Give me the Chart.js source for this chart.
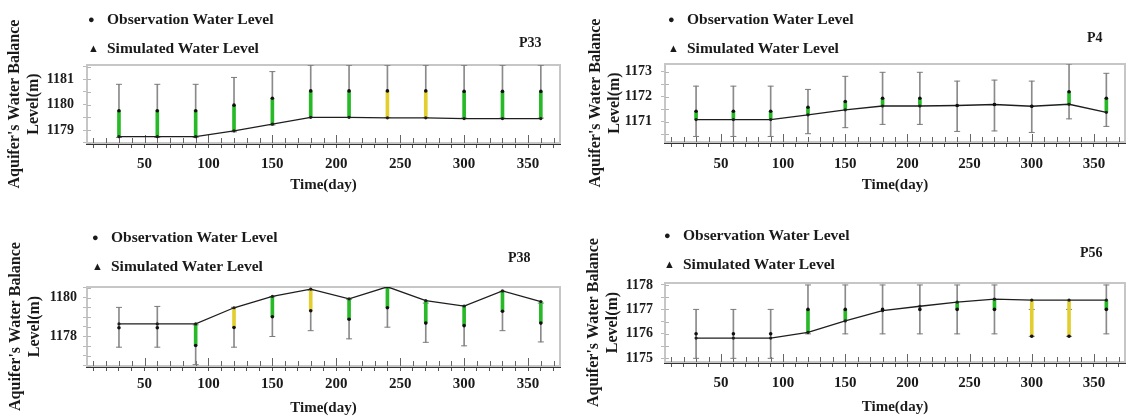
<!DOCTYPE html>
<html lang="en">
<head>
<meta charset="utf-8">
<title>Aquifer's Water Balance Level</title>
<script src="https://cdn.jsdelivr.net/npm/chart.js@4.4.1/dist/chart.umd.min.js"></script>
<style>
  html, body { margin: 0; padding: 0; background: #fff; }
  body { width: 1130px; height: 416px; overflow: hidden; position: relative;
         font-family: "Liberation Serif", "Times New Roman", serif; color: #1a1a1a; }
  .painel { position: absolute; overflow: visible; }
  .painel canvas { position: absolute; left: 0; top: 0; }
  .legenda { position: absolute; font-weight: bold; font-size: 15.5px; line-height: 16px; white-space: nowrap; }
  .legenda .simb { display: inline-block; width: 19px; font-size: 11px; vertical-align: 1px; }
  .rotulo { position: absolute; font-weight: bold; font-size: 14px; line-height: 14px; }
</style>
</head>
<body>

<div class="painel" style="left:0;top:0;width:565px;height:210px">
  <canvas id="P33" width="565" height="210"></canvas>
  <div class="legenda" style="left:88px;top:11px"><span class="simb">&#9679;</span>Observation Water Level</div>
  <div class="legenda" style="left:88px;top:40px"><span class="simb">&#9650;</span>Simulated Water Level</div>
  <div class="rotulo" style="left:519px;top:36px">P33</div>
</div>

<div class="painel" style="left:565px;top:0;width:565px;height:210px">
  <canvas id="P4" width="565" height="210"></canvas>
  <div class="legenda" style="left:103px;top:11px"><span class="simb">&#9679;</span>Observation Water Level</div>
  <div class="legenda" style="left:103px;top:40px"><span class="simb">&#9650;</span>Simulated Water Level</div>
  <div class="rotulo" style="left:522px;top:31px">P4</div>
</div>

<div class="painel" style="left:0;top:210px;width:565px;height:208px">
  <canvas id="P38" width="565" height="208"></canvas>
  <div class="legenda" style="left:92px;top:19px"><span class="simb">&#9679;</span>Observation Water Level</div>
  <div class="legenda" style="left:92px;top:48px"><span class="simb">&#9650;</span>Simulated Water Level</div>
  <div class="rotulo" style="left:508px;top:41px">P38</div>
</div>

<div class="painel" style="left:565px;top:210px;width:565px;height:208px">
  <canvas id="P56" width="565" height="208"></canvas>
  <div class="legenda" style="left:99px;top:17px"><span class="simb">&#9679;</span>Observation Water Level</div>
  <div class="legenda" style="left:99px;top:46px"><span class="simb">&#9650;</span>Simulated Water Level</div>
  <div class="rotulo" style="left:515px;top:36px">P56</div>
</div>

<script>
// dias de observacao (eixo x) e rotulos
var dias = [30, 60, 90, 120, 150, 180, 210, 240, 270, 300, 330, 360];
var xRotulos = [50, 100, 150, 200, 250, 300, 350];
var xLimites = [5, 375];

// P33
var p33Simulado = [1178.74, 1178.74, 1178.74, 1178.97, 1179.23, 1179.50, 1179.50, 1179.48, 1179.48, 1179.45, 1179.45, 1179.45];
var p33Observado = [1179.76, 1179.76, 1179.76, 1179.98, 1180.25, 1180.54, 1180.54, 1180.54, 1180.54, 1180.52, 1180.52, 1180.52];
var p33ErroMin = [1178.71, 1178.71, 1178.71, 1178.93, 1179.20, 1179.49, 1179.49, 1179.49, 1179.49, 1179.47, 1179.47, 1179.47];
var p33ErroMax = [1180.80, 1180.80, 1180.80, 1181.07, 1181.30, 1181.55, 1181.55, 1181.55, 1181.55, 1181.55, 1181.55, 1181.55];
var p33Classe = ['ok', 'ok', 'ok', 'ok', 'ok', 'ok', 'ok', 'alerta', 'alerta', 'ok', 'ok', 'ok'];
var p33Limites = [1178.49, 1181.56];
var p33Rotulos = [1179, 1180, 1181];
var p33Marcas = [1178.5, 1179, 1179.5, 1180, 1180.5, 1181, 1181.5];

// P4
var p4Simulado = [1171.09, 1171.09, 1171.09, 1171.28, 1171.48, 1171.63, 1171.63, 1171.65, 1171.69, 1171.62, 1171.70, 1171.38];
var p4Observado = [1171.42, 1171.42, 1171.42, 1171.58, 1171.81, 1171.94, 1171.94, 1171.65, 1171.69, 1171.62, 1172.20, 1171.94];
var p4ErroMin = [1170.42, 1170.42, 1170.42, 1170.53, 1170.77, 1170.90, 1170.90, 1170.62, 1170.64, 1170.58, 1171.12, 1170.82];
var p4ErroMax = [1172.42, 1172.42, 1172.42, 1172.29, 1172.81, 1172.97, 1172.97, 1172.62, 1172.66, 1172.62, 1173.30, 1172.93];
var p4Classe = ['ok', 'ok', 'ok', 'ok', 'ok', 'ok', 'ok', 'nenhuma', 'nenhuma', 'nenhuma', 'ok', 'ok'];
var p4Limites = [1170.2, 1173.3];
var p4Rotulos = [1171, 1172, 1173];
var p4Marcas = [1170.5, 1171, 1171.5, 1172, 1172.5, 1173];

// P38
var p38Simulado = [1178.65, 1178.65, 1178.65, 1179.48, 1180.07, 1180.44, 1179.94, 1180.56, 1179.85, 1179.57, 1180.35, 1179.80];
var p38Observado = [1178.45, 1178.45, 1177.54, 1178.46, 1179.02, 1179.33, 1178.89, 1179.48, 1178.69, 1178.56, 1179.30, 1178.69];
var p38ErroMin = [1177.45, 1177.45, 1176.55, 1177.45, 1178.00, 1178.30, 1177.88, 1178.48, 1177.70, 1177.52, 1178.30, 1177.72];
var p38ErroMax = [1179.50, 1179.55, 1178.60, 1179.50, 1180.05, 1180.38, 1179.92, 1180.50, 1179.72, 1179.60, 1180.33, 1179.72];
var p38Classe = ['nenhuma', 'nenhuma', 'ok', 'alerta', 'ok', 'alerta', 'ok', 'ok', 'ok', 'ok', 'ok', 'ok'];
var p38Limites = [1176.48, 1180.55];
var p38Rotulos = [1178, 1180];
var p38Marcas = [1176.5, 1177, 1177.5, 1178, 1178.5, 1179, 1179.5, 1180, 1180.5];

// P56
var p56Simulado = [1175.83, 1175.83, 1175.83, 1176.06, 1176.53, 1176.95, 1177.13, 1177.30, 1177.42, 1177.38, 1177.38, 1177.38];
var p56Observado = [1176.00, 1176.00, 1176.00, 1177.00, 1177.00, 1177.00, 1177.00, 1177.00, 1177.00, 1175.90, 1175.90, 1177.00];
var p56ErroMin = [1175.00, 1175.00, 1175.00, 1176.00, 1176.00, 1176.00, 1176.00, 1176.00, 1176.00, 1175.90, 1175.90, 1176.00];
var p56ErroMax = [1177.00, 1177.00, 1177.00, 1178.00, 1178.00, 1178.00, 1178.00, 1178.00, 1178.00, 1177.00, 1177.00, 1178.00];
var p56Classe = ['nenhuma', 'nenhuma', 'nenhuma', 'ok', 'ok', 'nenhuma', 'nenhuma', 'ok', 'ok', 'alerta', 'alerta', 'ok'];
var p56Limites = [1174.85, 1178.08];
var p56Rotulos = [1175, 1176, 1177, 1178];
var p56Marcas = [1175, 1175.5, 1176, 1176.5, 1177, 1177.5, 1178];

var corClasse = { ok: '#27b927', alerta: '#e2cf2f', nenhuma: 'rgba(0,0,0,0)' };

Chart.defaults.font.family = '"Liberation Serif", "Times New Roman", serif';
Chart.defaults.font.weight = 'bold';
Chart.defaults.color = '#1a1a1a';

// marcas menores do eixo x a cada 10 dias
var xMarcas = [];
for (var d = 10; d <= 370; d += 10) { xMarcas.push(d); }

// moldura cinza e tracinhos para dentro do grafico
var molduraPlugin = {
    id: 'moldura',
    beforeDatasetsDraw: function (chart) {
        var ctx = chart.ctx, a = chart.chartArea;
        ctx.save();
        ctx.strokeStyle = '#c6c6c6';
        ctx.lineWidth = 2;
        ctx.strokeRect(a.left, a.top, a.right - a.left, a.bottom - a.top);
        var sx = chart.scales.x, sy = chart.scales.y;
        ctx.lineWidth = 1;
        ctx.strokeStyle = '#666';
        sx.ticks.forEach(function (t) {
            var px = Math.round(sx.getPixelForValue(t.value)) + 0.5;
            var len = xRotulos.indexOf(t.value) >= 0 ? 8 : 5;
            ctx.beginPath();
            ctx.moveTo(px, a.bottom);
            ctx.lineTo(px, a.bottom - len);
            ctx.stroke();
        });
        ctx.strokeStyle = '#b5b5b5';
        sy.ticks.forEach(function (t) {
            var py = Math.round(sy.getPixelForValue(t.value)) + 0.5;
            ctx.beginPath();
            ctx.moveTo(a.left, py);
            ctx.lineTo(a.left + 4, py);
            ctx.stroke();
        });
        ctx.restore();
    }
};

function criarGrafico(idCanvas, cfg) {
    var pontos = function (valores) {
        return dias.map(function (d, i) { return { x: d, y: valores[i] }; });
    };
    var faixas = function (a, b) {
        return dias.map(function (d, i) { return { x: d, y: [a[i], b[i]] }; });
    };
    var canvas = document.getElementById(idCanvas);
    var contexto = canvas.getContext('2d');
    return new Chart(contexto, {
        type: 'scatter',
        data: {
            datasets: [
                {
                    type: 'scatter', label: 'Observation Water Level',
                    data: pontos(cfg.observado),
                    pointStyle: 'circle', pointRadius: 1.8,
                    backgroundColor: '#111', borderWidth: 0, order: 1
                },
                {
                    type: 'line', label: 'Simulated Water Level',
                    data: pontos(cfg.simulado),
                    borderColor: '#1e1e1e', borderWidth: 1.3, tension: 0,
                    pointRadius: 1.6, pointBackgroundColor: '#1e1e1e', pointBorderWidth: 0,
                    order: 2
                },
                {
                    type: 'bar', data: faixas(cfg.simulado, cfg.observado),
                    backgroundColor: cfg.classe.map(function (c) { return corClasse[c]; }),
                    barThickness: 3, grouped: false, order: 3
                },
                {
                    type: 'scatter', data: pontos(cfg.erroMax),
                    pointStyle: 'line', pointRadius: 3, borderColor: '#7c7c7c', borderWidth: 1, order: 4
                },
                {
                    type: 'scatter', data: pontos(cfg.erroMin),
                    pointStyle: 'line', pointRadius: 3, borderColor: '#7c7c7c', borderWidth: 1, order: 4
                },
                {
                    type: 'bar', data: faixas(cfg.erroMin, cfg.erroMax),
                    backgroundColor: '#8a8a8a', barThickness: 1, grouped: false, order: 5
                }
            ]
        },
        options: {
            responsive: false,
            animation: false,
            events: [],
            devicePixelRatio: 1,
            layout: {
                padding: { left: 0, top: cfg.area[2], right: canvas.width - cfg.area[1], bottom: 0 }
            },
            plugins: { legend: { display: false }, tooltip: { enabled: false } },
            scales: {
                x: {
                    type: 'linear', offset: false,
                    min: xLimites[0], max: xLimites[1],
                    afterBuildTicks: function (s) { s.ticks = xMarcas.map(function (v) { return { value: v }; }); },
                    afterFit: function (s) { s.height = canvas.height - cfg.area[3]; },
                    ticks: {
                        autoSkip: false, maxRotation: 0, padding: cfg.padTickX,
                        font: { size: 15, weight: 'bold' },
                        callback: function (v) { return xRotulos.indexOf(v) >= 0 ? String(v) : ''; }
                    },
                    grid: { drawOnChartArea: false, tickLength: 5, color: '#555', offset: false },
                    border: { display: true, color: '#333', width: 3 },
                    title: {
                        display: true, text: 'Time(day)',
                        font: { size: 15, weight: 'bold' },
                        padding: { top: 0, bottom: cfg.padTituloX }
                    }
                },
                y: {
                    type: 'linear', beginAtZero: false,
                    min: cfg.limites[0], max: cfg.limites[1],
                    afterBuildTicks: function (s) { s.ticks = cfg.marcas.map(function (v) { return { value: v }; }); },
                    afterFit: function (s) { s.width = cfg.area[0]; },
                    ticks: {
                        autoSkip: false, padding: cfg.padTickY,
                        font: { size: 14, weight: 'bold' },
                        callback: function (v) { return cfg.rotulos.indexOf(v) >= 0 ? String(v) : ''; }
                    },
                    grid: { drawOnChartArea: false, tickLength: 4, color: '#bbb' },
                    border: { display: false },
                    title: {
                        display: true, text: ["Aquifer's Water Balance", 'Level(m)'],
                        font: { size: 16, weight: 'bold', lineHeight: 1.2 },
                        padding: { top: cfg.padTituloY, bottom: 0 }
                    }
                }
            }
        },
        plugins: [molduraPlugin]
    });
}

// area: [esquerda, direita, topo, base] em pixels do canvas
var graficoP33 = criarGrafico('P33', {
    simulado: p33Simulado, observado: p33Observado, erroMin: p33ErroMin, erroMax: p33ErroMax,
    classe: p33Classe, limites: p33Limites, rotulos: p33Rotulos, marcas: p33Marcas,
    area: [87, 560, 65, 143], padTickX: 7, padTituloX: 16, padTickY: 9, padTituloY: 5
});

var graficoP4 = criarGrafico('P4', {
    simulado: p4Simulado, observado: p4Observado, erroMin: p4ErroMin, erroMax: p4ErroMax,
    classe: p4Classe, limites: p4Limites, rotulos: p4Rotulos, marcas: p4Marcas,
    area: [100, 565, 64, 142], padTickX: 8, padTituloX: 16, padTickY: 9, padTituloY: 21
});

var graficoP38 = criarGrafico('P38', {
    simulado: p38Simulado, observado: p38Observado, erroMin: p38ErroMin, erroMax: p38ErroMax,
    classe: p38Classe, limites: p38Limites, rotulos: p38Rotulos, marcas: p38Marcas,
    area: [87, 560, 77, 156], padTickX: 4, padTituloX: 1, padTickY: 6, padTituloY: 6
});

var graficoP56 = criarGrafico('P56', {
    simulado: p56Simulado, observado: p56Observado, erroMin: p56ErroMin, erroMax: p56ErroMax,
    classe: p56Classe, limites: p56Limites, rotulos: p56Rotulos, marcas: p56Marcas,
    area: [100, 565, 73, 152], padTickX: 7, padTituloX: 2, padTickY: 8, padTituloY: 19
});
</script>
</body>
</html>
